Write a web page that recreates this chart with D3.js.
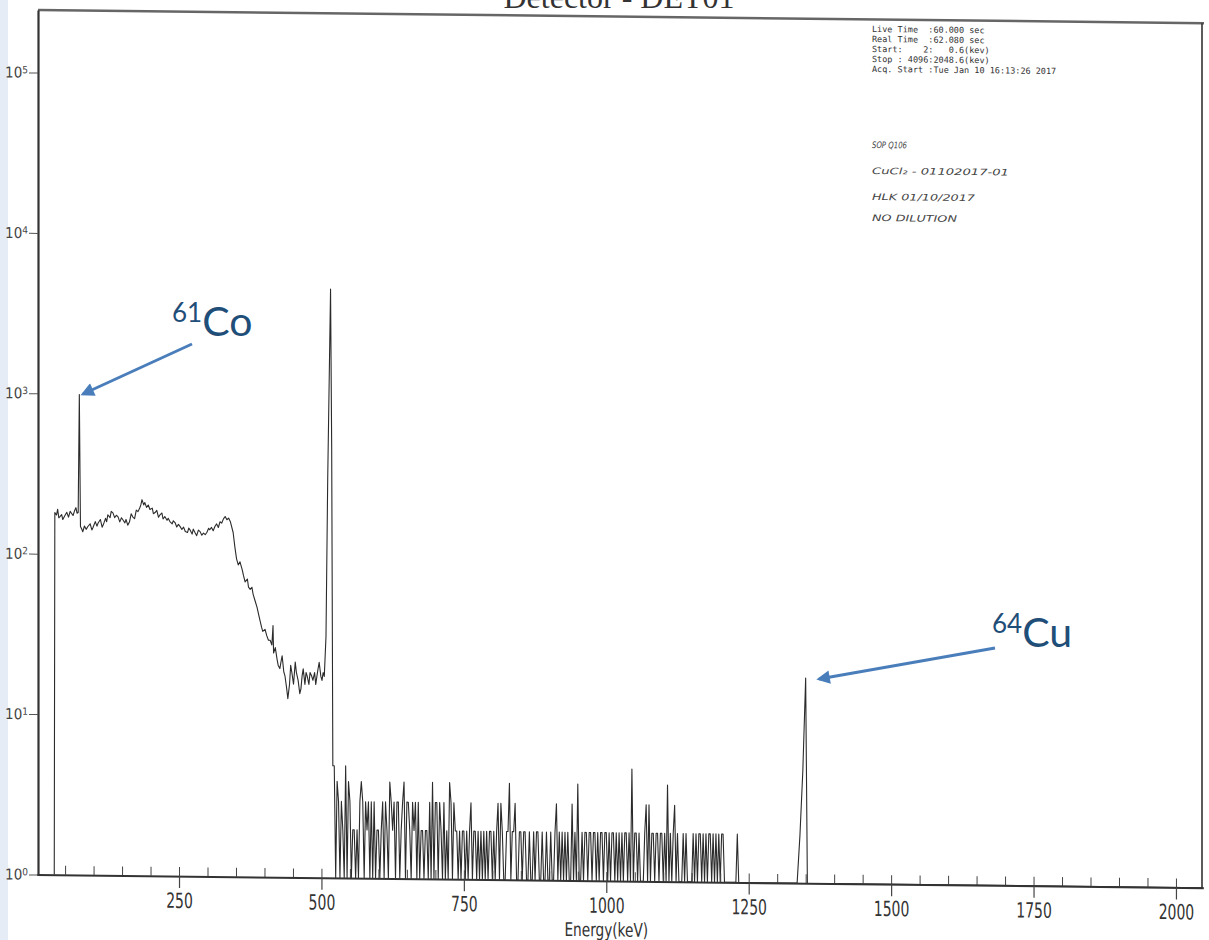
<html>
<head>
<script src="https://d3js.org/d3.v7.min.js"></script>
<style>
  body { margin: 0; background: #fff; }
  svg { display: block; }
</style>
</head>
<body>
<svg id="spectrum" width="1209" height="940"></svg>
<script>
// spectrum: [energy keV, counts]
const continuum = [
  [31,0],[32,181],[35,175],[37,190],[39,168],[41,171],[44,176],[46,164],[49,172],[53,182],
  [56,170],[59,185],[62,178],[64,174],[67,188],[69,195],[71,180],[73,182],[75,990],[77,149],
  [79,144],[81,138],[84,150],[87,143],[90,149],[94,155],[97,142],[99,147],[103,160],[106,150],
  [108,157],[112,165],[115,148],[117,153],[121,168],[123,160],[125,177],[129,170],[131,186],[134,182],
  [137,170],[140,176],[143,172],[146,160],[149,170],[152,164],[155,158],[157,166],[160,153],[163,160],
  [166,180],[169,172],[172,168],[175,190],[178,186],[181,196],[183,205],[185,221],[188,205],[190,212],
  [193,198],[196,205],[199,192],[203,196],[205,181],[208,184],[211,190],[214,172],[217,179],[220,183],
  [222,168],[225,174],[229,165],[231,170],[234,162],[238,157],[240,164],[243,160],[246,150],[249,156],
  [252,151],[255,145],[258,150],[261,141],[265,139],[267,148],[269,145],[273,136],[275,146],[278,139],
  [281,133],[284,144],[287,141],[290,134],[293,138],[296,135],[299,140],[302,148],[304,145],[307,150],
  [310,143],[313,152],[316,158],[319,150],[322,163],[325,160],[328,170],[331,176],[334,168],[337,172],
  [340,164],[345,140],[348,114],[351,96],[354,88],[357,92],[361,82],[363,76],[366,69],[370,72],
  [372,64],[375,62],[378,64],[380,58],[384,52],[387,48],[390,43],[392,40],[395,36],[397,34],
  [401,35],[404,32],[407,30],[410,30],[413,28],[415,37],[416,25],[419,27],[422,23],[424,21],
  [427,20],[429,22],[431,24],[434,19],[436,18],[439,15],[441,13],[444,16],[446,21],[448,19],
  [451,16],[454,22],[456,19],[459,17],[462,14],[464,15],[466,18],[468,20],[471,16],[473,19],
  [475,18],[478,16],[480,19],[483,18],[485,17],[488,19],[490,16],[492,18],[494,20],[496,22],
  [499,18],[501,17],[503,19],[505,18],[508,32],[511,304],[516,4680],[518,470],[520,5]
];

// 2.5 keV bins from 522.5 keV through the noisy tail (one row = 50 keV)
const binKeV = 2.5;
const noiseStartKeV = 522.5;
const noiseCounts = [
  5,0,4,3,0,3,2,0,5,0, 4,3,0,2,2,0,2,0,3,4,
  3,0,3,2,3,0,3,1,3,0, 2,2,0,2,3,0,3,2,0,4,
  3,2,3,0,3,3,0,2,3,4, 0,3,3,2,0,3,2,3,0,3,
  0,2,2,0,2,2,1,3,0,4, 0,3,3,0,3,2,0,3,0,2,
  0,4,3,0,3,2,2,0,2,0, 2,2,0,2,0,2,3,0,2,2,
  0,2,0,2,0,2,0,2,0,2, 2,0,2,0,2,3,0,3,2,0,
  0,2,2,4,0,2,2,3,0,0, 2,2,0,2,2,0,0,2,0,0,
  2,0,2,2,0,0,2,0,0,2, 0,0,2,0,0,2,3,0,2,0,
  2,0,2,0,2,0,0,3,0,2, 0,4,0,0,2,0,2,2,0,2,
  2,0,2,2,0,2,0,2,2,0, 2,2,0,2,0,2,2,0,2,0,
  2,0,2,0,2,2,0,2,0,5, 0,2,2,0,2,0,0,0,2,3,
  0,3,0,2,2,0,2,2,0,2, 2,0,2,0,4,0,2,0,2,3,
  0,2,0,0,0,2,0,2,0,0, 0,0,2,0,2,0,2,2,0,2,
  0,2,0,2,2,0,2,0,2,0, 2,0,2,2,0,0,0,0,0,0,
  0,0,0,2,0,0
];

const cuPeak = [[1330,0],[1335,1],[1340,2],[1345,5],[1350,19],[1353,0],[2048,0]];

const majorTicks = [250, 500, 750, 1000, 1250, 1500, 1750, 2000];
const decades = [1, 10, 100, 1000, 10000, 100000];

const infoLines = [
  "Live Time  :60.000 sec",
  "Real Time  :62.080 sec",
  "Start:    2:   0.6(kev)",
  "Stop : 4096:2048.6(kev)",
  "Acq. Start :Tue Jan 10 16:13:26 2017"
];
const notes = ["SOP Q106", "CuCl\u2082 - 01102017-01", "HLK 01/10/2017", "NO DILUTION"];
const noteWidths = [35, 137, 103, 85];

const annotations = [
  { sup: "61", sym: "Co", tx: 172, ty: 336, from: [192, 344], to: [83, 394] },
  { sup: "64", sym: "Cu", tx: 992, ty: 647, from: [995, 648], to: [819, 679] }
];

const svg = d3.select("#spectrum");
const narrow = "'Liberation Sans Narrow', 'DejaVu Sans Condensed', sans-serif";

// light strip on the left of the slide
svg.append("rect").attr("x", 0).attr("y", 0).attr("width", 8).attr("height", 940).attr("fill", "#e6ecf5");

// title is cut by the top of the scan, as in the original
svg.append("text")
  .attr("x", 619).attr("y", 8)
  .attr("text-anchor", "middle")
  .attr("font-family", "'Liberation Serif', serif")
  .attr("font-size", 32)
  .attr("fill", "#333")
  .text("Detector - DET01");

const axisX = 38, rightX = 1202, topY = 10;
const x = d3.scaleLinear().domain([0, 2048]).range([36.6, 1203.3]);
const y = d3.scaleLog().domain([1, Math.pow(10, 5.39)]).range([874.5, topY]).clamp(true);

// the scan is slightly tilted
const page = svg.append("g")
  .attr("transform", `translate(${axisX},0) skewY(0.65) translate(${-axisX},0)`);

// frame
page.append("line").attr("x1", axisX).attr("x2", rightX + 2).attr("y1", topY).attr("y2", topY)
  .attr("stroke", "#666").attr("stroke-width", 2.5);
page.append("line").attr("x1", rightX).attr("x2", rightX).attr("y1", topY).attr("y2", y(1))
  .attr("stroke", "#333").attr("stroke-width", 1.6);

// spectrum
const spectrum = continuum
  .concat(noiseCounts.map((c, i) => [noiseStartKeV + i * binKeV, c]))
  .concat(cuPeak);

const line = d3.line()
  .x(d => x(d[0]))
  .y(d => y(Math.max(d[1], 1)));

page.append("path")
  .datum(spectrum)
  .attr("d", line)
  .attr("fill", "none")
  .attr("stroke", "#2b2b2b")
  .attr("stroke-width", 1.1)
  .attr("stroke-linejoin", "round");

// x axis: minor ticks up, major ticks down with labels
const minorG = page.append("g")
  .attr("transform", `translate(0,${y(1)})`)
  .call(d3.axisBottom(x).tickValues(d3.range(50, 2001, 50)).tickSize(-9).tickFormat(""));
minorG.select(".domain").remove();
minorG.selectAll("line").attr("stroke", "#444").attr("stroke-width", 1);

const xAxisG = page.append("g")
  .attr("transform", `translate(0,${y(1)})`)
  .call(d3.axisBottom(x).tickValues(majorTicks).tickSize(12).tickSizeOuter(0).tickPadding(5).tickFormat(d3.format("d")));
xAxisG.select(".domain").attr("stroke", "#333").attr("stroke-width", 2);
xAxisG.selectAll(".tick line").attr("stroke", "#444").attr("stroke-width", 1.2);
xAxisG.selectAll(".tick text")
  .attr("font-family", narrow)
  .attr("font-size", 21)
  .attr("fill", "#333")
  .attr("transform", "scale(0.74,1)");

page.append("g")
  .attr("transform", `translate(${x(1000)},930) scale(0.8,1)`)
  .append("text")
  .attr("text-anchor", "middle")
  .attr("font-family", narrow)
  .attr("font-size", 19)
  .attr("fill", "#333")
  .text("Energy(keV)");

// y axis
const yAxisG = page.append("g")
  .attr("transform", `translate(${axisX},0)`)
  .call(d3.axisLeft(y).tickValues(decades).tickSize(9).tickSizeOuter(0).tickPadding(1));
yAxisG.select(".domain").attr("stroke", "#333").attr("stroke-width", 2.2);
yAxisG.selectAll(".tick line").attr("stroke", "#555").attr("stroke-width", 1);
yAxisG.selectAll(".tick text")
  .attr("font-family", narrow)
  .attr("font-size", 15)
  .attr("fill", "#444")
  .text(null)
  .each(function (d) {
    const t = d3.select(this);
    t.append("tspan").text("10");
    t.append("tspan").attr("dy", "-0.45em").attr("font-size", 10).text(Math.round(Math.log10(d)));
  });

// acquisition info block
page.append("g").selectAll("text")
  .data(infoLines)
  .join("text")
  .attr("x", 872)
  .attr("y", (d, i) => 22.5 + i * 10)
  .attr("font-family", "'DejaVu Sans Mono', monospace")
  .attr("font-size", 8.5)
  .attr("fill", "#333")
  .attr("xml:space", "preserve")
  .text(d => d);

// handwritten notes
const noteY = [138.5, 164.5, 190.5, 211.5];
page.append("g").selectAll("text")
  .data(notes)
  .join("text")
  .attr("x", 872)
  .attr("y", (d, i) => noteY[i])
  .attr("font-family", "'DejaVu Sans', sans-serif")
  .attr("font-style", "italic")
  .attr("font-size", 9)
  .attr("textLength", (d, i) => noteWidths[i])
  .attr("lengthAdjust", "spacingAndGlyphs")
  .attr("fill", "#444")
  .text(d => d);

// blue annotations on top of the scan
svg.append("defs").append("marker")
  .attr("id", "head")
  .attr("viewBox", "0 0 10 10")
  .attr("refX", 8).attr("refY", 5)
  .attr("markerWidth", 5.5).attr("markerHeight", 4.5)
  .attr("orient", "auto")
  .append("path")
  .attr("d", "M0,0 L10,5 L0,10 z")
  .attr("fill", "#4a7ebb");

const ann = svg.append("g");
annotations.forEach(a => {
  ann.append("line")
    .attr("x1", a.from[0]).attr("y1", a.from[1])
    .attr("x2", a.to[0]).attr("y2", a.to[1])
    .attr("stroke", "#4a7ebb")
    .attr("stroke-width", 3)
    .attr("marker-end", "url(#head)");
  const t = ann.append("text")
    .attr("x", a.tx).attr("y", a.ty)
    .attr("font-family", "Lato, 'Open Sans', sans-serif")
    .attr("fill", "#1f4e79");
  t.append("tspan").attr("font-size", 26).attr("dy", -14).text(a.sup);
  t.append("tspan").attr("font-size", 41).attr("dy", 14).text(a.sym);
});
</script>
</body></html>
